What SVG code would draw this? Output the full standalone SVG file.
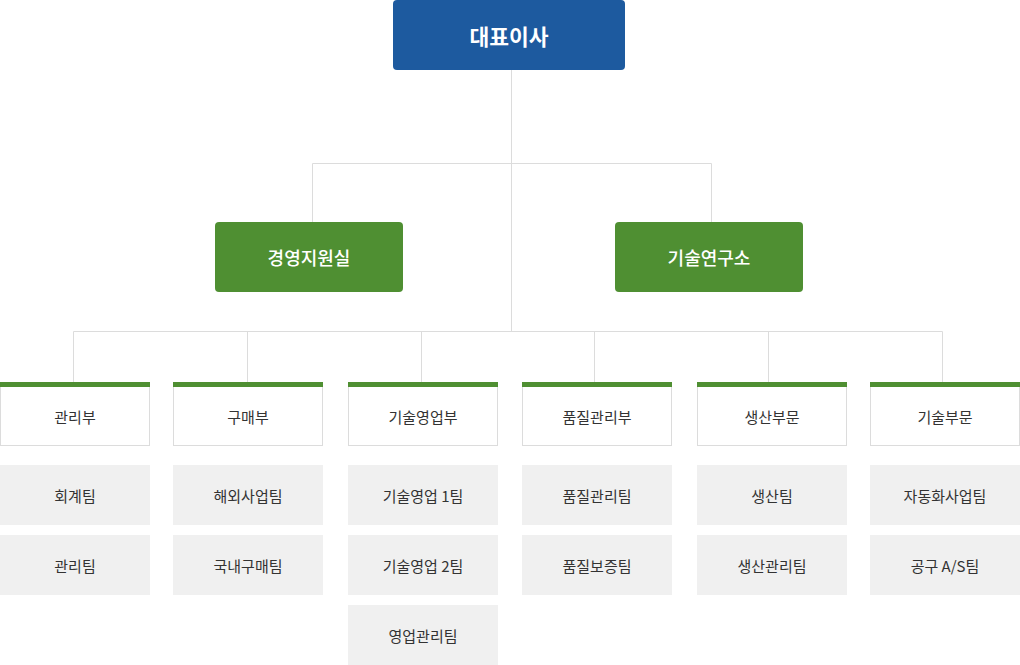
<svg xmlns="http://www.w3.org/2000/svg" width="1020" height="665" viewBox="0 0 1020 665">
<style>
.ln{stroke:#dcdcdc;stroke-width:1;fill:none}
.ceo{fill:#1d5a9f}
.div{fill:#4f8f32}
.dept{fill:#fff;stroke:#dcdcdc;stroke-width:1}
.bar{fill:#4f8f32}
.team{fill:#f0f0f0}
text{font-family:"Noto Sans CJK KR","Noto Sans",sans-serif;text-anchor:middle;dominant-baseline:central}
.t1{fill:#fff;font-size:21.5px;font-weight:700}
.t2{fill:#fff;font-size:18px;font-weight:500}
.t3{fill:#333;font-size:15px}
</style>
<g id="connectors">
<path class="ln" d="M511.5 70V331.5"/>
<path class="ln" d="M312.5 222V163.5H711.5V222"/>
<path class="ln" d="M73.5 382V331.5H942.5V382"/>
<path class="ln" d="M247.5 331.5V382M421.5 331.5V382M594.5 331.5V382M768.5 331.5V382"/>
</g>
<g id="ceo"><rect class="ceo" x="393" y="0" width="232" height="70" rx="4"/><text class="t1" x="509" y="35">대표이사</text></g>
<g id="div1"><rect class="div" x="215" y="222" width="188" height="70" rx="4"/><text class="t2" x="309" y="257">경영지원실</text></g>
<g id="div2"><rect class="div" x="615" y="222" width="188" height="70" rx="4"/><text class="t2" x="709" y="257">기술연구소</text></g>

<g id="dept1"><rect class="dept" x="0.5" y="382.5" width="149" height="63"/><rect class="bar" x="0" y="382" width="150" height="5"/><text class="t3" x="75" y="416">관리부</text></g>
<g id="dept2"><rect class="dept" x="173.5" y="382.5" width="149" height="63"/><rect class="bar" x="173" y="382" width="150" height="5"/><text class="t3" x="248" y="416">구매부</text></g>
<g id="dept3"><rect class="dept" x="348.5" y="382.5" width="149" height="63"/><rect class="bar" x="348" y="382" width="150" height="5"/><text class="t3" x="423" y="416">기술영업부</text></g>
<g id="dept4"><rect class="dept" x="522.5" y="382.5" width="149" height="63"/><rect class="bar" x="522" y="382" width="150" height="5"/><text class="t3" x="597" y="416">품질관리부</text></g>
<g id="dept5"><rect class="dept" x="697.5" y="382.5" width="149" height="63"/><rect class="bar" x="697" y="382" width="150" height="5"/><text class="t3" x="772" y="416">생산부문</text></g>
<g id="dept6"><rect class="dept" x="870.5" y="382.5" width="149" height="63"/><rect class="bar" x="870" y="382" width="150" height="5"/><text class="t3" x="945" y="416">기술부문</text></g>

<g id="team1a"><rect class="team" x="0" y="465" width="150" height="60"/><text class="t3" x="75" y="495">회계팀</text></g>
<g id="team1b"><rect class="team" x="0" y="535" width="150" height="60"/><text class="t3" x="75" y="565">관리팀</text></g>
<g id="team2a"><rect class="team" x="173" y="465" width="150" height="60"/><text class="t3" x="248" y="495">해외사업팀</text></g>
<g id="team2b"><rect class="team" x="173" y="535" width="150" height="60"/><text class="t3" x="248" y="565">국내구매팀</text></g>
<g id="team3a"><rect class="team" x="348" y="465" width="150" height="60"/><text class="t3" x="423" y="495">기술영업 1팀</text></g>
<g id="team3b"><rect class="team" x="348" y="535" width="150" height="60"/><text class="t3" x="423" y="565">기술영업 2팀</text></g>
<g id="team3c"><rect class="team" x="348" y="605" width="150" height="60"/><text class="t3" x="423" y="635">영업관리팀</text></g>
<g id="team4a"><rect class="team" x="522" y="465" width="150" height="60"/><text class="t3" x="597" y="495">품질관리팀</text></g>
<g id="team4b"><rect class="team" x="522" y="535" width="150" height="60"/><text class="t3" x="597" y="565">품질보증팀</text></g>
<g id="team5a"><rect class="team" x="697" y="465" width="150" height="60"/><text class="t3" x="772" y="495">생산팀</text></g>
<g id="team5b"><rect class="team" x="697" y="535" width="150" height="60"/><text class="t3" x="772" y="565">생산관리팀</text></g>
<g id="team6a"><rect class="team" x="870" y="465" width="150" height="60"/><text class="t3" x="945" y="495">자동화사업팀</text></g>
<g id="team6b"><rect class="team" x="870" y="535" width="150" height="60"/><text class="t3" x="945" y="565">공구 A/S팀</text></g>
</svg>
